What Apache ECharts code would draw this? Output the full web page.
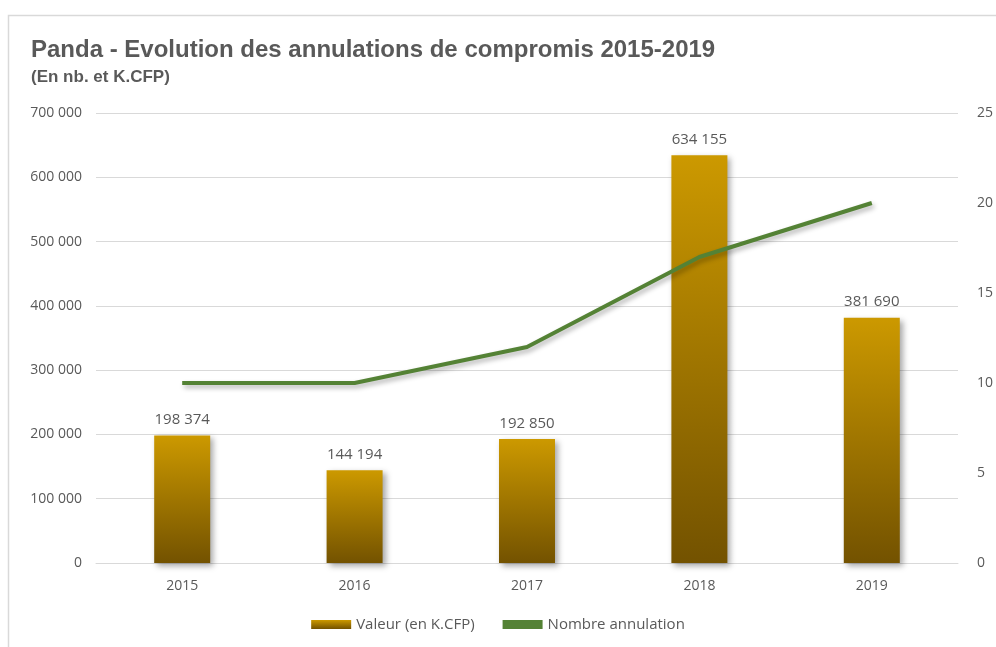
<!DOCTYPE html>
<html><head><meta charset="utf-8">
<script src="https://cdn.jsdelivr.net/npm/echarts@6/dist/echarts.min.js"></script>
<style>html,body{margin:0;padding:0;background:#fff}#c{width:996px;height:647px}</style>
</head><body><div id="c"></div>
<script>
const categories = ['2015','2016','2017','2018','2019'];
const valeurs = [198374, 144194, 192850, 634155, 381690];
const nombres = [10, 10, 12, 17, 20];
const leftTicks = [0, 100000, 200000, 300000, 400000, 500000, 600000, 700000];
const rightTicks = [0, 5, 10, 15, 20, 25];

const fmt = v => String(v).replace(/\B(?=(\d{3})+(?!\d))/g, '\u00a0');
const txt = '#595959';
const font = 'Open Sans';

const chart = echarts.init(document.getElementById('c'));
chart.setOption({
  animation: false,
  backgroundColor: '#fff',
  graphic: [{
    type: 'rect', left: 6, top: 13,
    shape: { width: 1100, height: 700 },
    style: { fill: 'none', stroke: '#d9d9d9', lineWidth: 1.5 }, z: -1
  }],
  title: {
    text: 'Panda - Evolution des annulations de compromis 2015-2019',
    subtext: '(En nb. et K.CFP)',
    left: 26, top: 33, itemGap: 7,
    textStyle: { fontFamily: 'Liberation Sans', fontWeight: 'bold', fontSize: 24, color: txt },
    subtextStyle: { fontFamily: 'Liberation Sans', fontWeight: 'bold', fontSize: 17, color: txt }
  },
  legend: {
    bottom: 10, left: 'center', itemGap: 28,
    textStyle: { fontFamily: font, fontSize: 15, color: txt },
    data: [
      { name: 'Valeur (en K.CFP)', icon: 'rect', itemWidth: 38, itemHeight: 9 },
      { name: 'Nombre annulation', icon: 'rect', itemWidth: 40, itemHeight: 4 }
    ],
    itemWidth: 40, itemHeight: 9
  },
  grid: { left: 96, right: 33, top: 113, bottom: 84 },
  xAxis: {
    type: 'category', data: categories,
    axisLine: { lineStyle: { color: '#d9d9d9' } },
    axisTick: { show: false },
    axisLabel: { fontFamily: font, fontSize: 14, color: txt, margin: 16 }
  },
  yAxis: [{
    type: 'value', min: 0, max: 700000, interval: 100000,
    axisLine: { show: false }, axisTick: { show: false },
    splitLine: { lineStyle: { color: '#d9d9d9' } },
    axisLabel: { fontFamily: font, fontSize: 14, color: txt, margin: 14, formatter: v => fmt(v) }
  }, {
    type: 'value', min: 0, max: 25, interval: 5,
    axisLine: { show: false }, axisTick: { show: false },
    splitLine: { show: false },
    axisLabel: { fontFamily: font, fontSize: 14, color: txt, margin: 19 }
  }],
  series: [{
    name: 'Valeur (en K.CFP)', type: 'bar', data: valeurs, barWidth: 56,
    itemStyle: {
      color: new echarts.graphic.LinearGradient(0, 0, 0, 1, [
        { offset: 0, color: '#CC9900' }, { offset: 1, color: '#735200' }
      ]),
      shadowColor: 'rgba(0,0,0,0.35)', shadowBlur: 6, shadowOffsetX: 3, shadowOffsetY: 3
    },
    label: { show: true, position: 'top', distance: 8, fontFamily: font, fontSize: 15, color: txt, formatter: p => fmt(p.value) }
  }, {
    name: 'Nombre annulation', type: 'line', yAxisIndex: 1, data: nombres,
    symbol: 'none', z: 5,
    lineStyle: { color: '#548235', width: 4, shadowColor: 'rgba(0,0,0,0.3)', shadowBlur: 5, shadowOffsetX: 2, shadowOffsetY: 3 },
    itemStyle: { color: '#548235' }
  }]
});
</script></body></html>
